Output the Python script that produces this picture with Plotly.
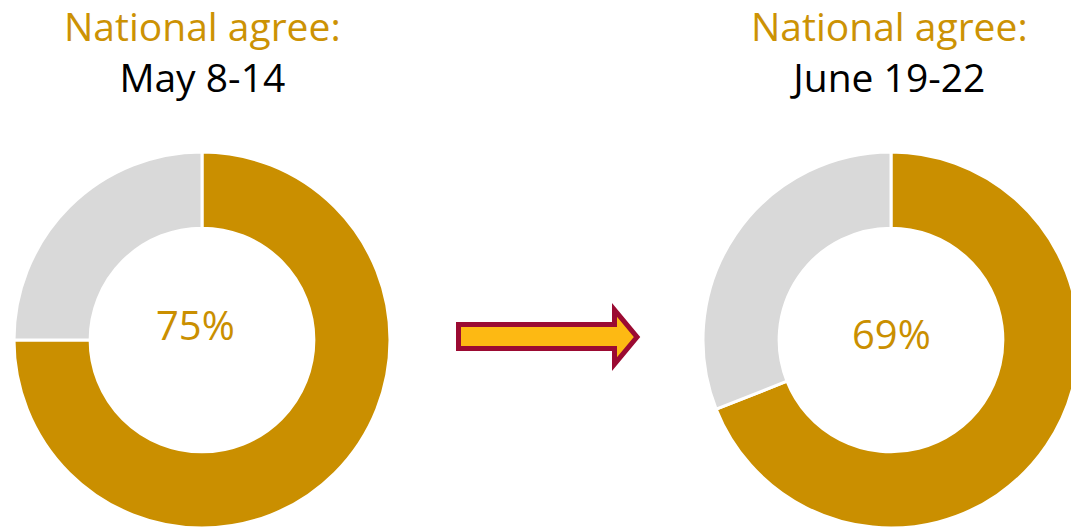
import plotly.graph_objects as go

W, H = 1080, 528  # a bit wider than the window so the right donut is cut at the edge

# data
labels = ["Agree", "Other"]
may_values = [75, 25]
june_values = [69, 31]
period_titles = ["May 8-14", "June 19-22"]
center_labels = ["75%", "69%"]

GOLD = "#CA8F00"
GREY = "#D9D9D9"
TITLE_GOLD = "#CC9204"
FONT = "Open Sans"


def px(x, y):
    # screen pixel -> paper coords
    return x / W, 1 - y / H


fig = go.Figure()

# left donut
x0, y1 = px(14, 152)
x1, y0 = px(390, 528)
fig.add_trace(go.Pie(
    labels=labels, values=may_values,
    hole=0.595, sort=False, direction="clockwise", rotation=0,
    marker=dict(colors=[GOLD, GREY], line=dict(color="white", width=3)),
    textinfo="none", hoverinfo="label+percent",
    domain=dict(x=[x0, x1], y=[y0, y1]),
))

# right donut
x0, _ = px(703, 0)
x1, _ = px(1079, 0)
fig.add_trace(go.Pie(
    labels=labels, values=june_values,
    hole=0.595, sort=False, direction="clockwise", rotation=0,
    marker=dict(colors=[GOLD, GREY], line=dict(color="white", width=3)),
    textinfo="none", hoverinfo="label+percent",
    domain=dict(x=[x0, x1], y=[y0, y1]),
))

# arrow between the two donuts
pts = [(458.5, 324.5), (614.5, 324.5), (614.5, 310), (637, 337),
       (614.5, 364), (614.5, 348.5), (458.5, 348.5)]
path = "M " + " L ".join(f"{px(x, y)[0]:.5f},{px(x, y)[1]:.5f}" for x, y in pts) + " Z"
fig.add_shape(type="path", xref="paper", yref="paper", path=path,
              fillcolor="#FDB913", line=dict(color="#9B0A32", width=5))

# titles
for cx, period in zip([202, 889], period_titles):
    fig.add_annotation(
        x=px(cx, 0)[0], y=1, xref="paper", yref="paper", yshift=3,
        text=f"<span style='color:{TITLE_GOLD}'>National agree:</span><br>{period}",
        showarrow=False, xanchor="center", yanchor="top",
        font=dict(family=FONT, size=39, color="black"))

# center percentages
for (cx, cy), lab in zip([(195, 324), (891, 333)], center_labels):
    fig.add_annotation(x=px(cx, 0)[0], y=px(0, cy)[1], xref="paper", yref="paper",
                       text=lab, showarrow=False,
                       xanchor="center", yanchor="middle",
                       font=dict(family=FONT, size=40, color=GOLD))

fig.update_layout(
    width=W, height=H,
    margin=dict(l=0, r=0, t=0, b=0),
    paper_bgcolor="white", plot_bgcolor="white",
    showlegend=False,
)

fig.write_html("out.html", config={"displayModeBar": False},
               post_script="document.body.style.margin='0';document.body.style.overflow='hidden';")
